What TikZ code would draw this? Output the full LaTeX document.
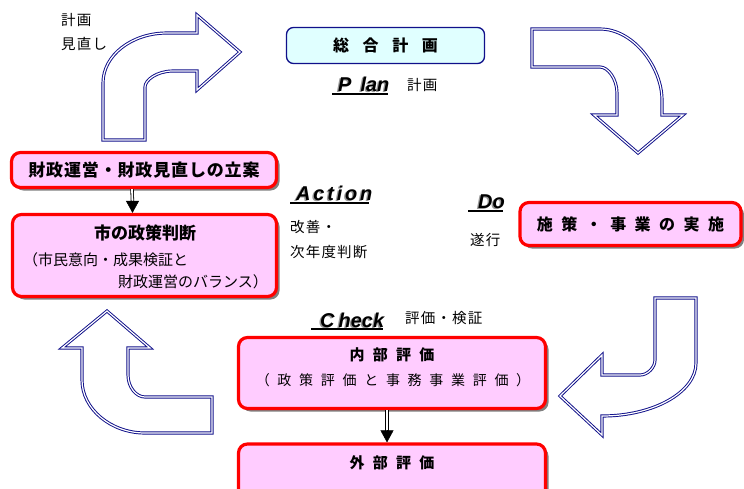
\documentclass[tikz,border=0pt]{standalone}
\usepackage{fontspec}
\setmainfont{Noto Sans CJK JP}
\newfontfamily\lat{Liberation Sans}
\usetikzlibrary{shadows,arrows.meta,calc}
\definecolor{boxred}{HTML}{FF0000}
\definecolor{boxpink}{HTML}{FFCCFF}
\definecolor{navyline}{HTML}{10108A}
\definecolor{planfill}{HTML}{E0FFFF}
\newcommand{\fs}[1]{\fontsize{#1}{#1}\selectfont}
\newcommand{\ls}[1]{\addfontfeatures{LetterSpace=#1}}
\begin{document}
\begin{tikzpicture}[x=1pt,y=-1pt,
  redbox/.style={rectangle, draw=boxred, line width=3.2pt, fill=boxpink, rounded corners=9pt, inner sep=0pt,
    drop shadow={shadow xshift=3pt, shadow yshift=-3pt, fill=black!50, opacity=1}},
  planbox/.style={rectangle, draw=navyline, line width=1.3pt, fill=planfill, rounded corners=7pt, inner sep=0pt},
  bigarrow/.style={draw=navyline, line width=0.95pt, double=white, double distance=1.2pt, fill=white, line join=miter},
  conn/.style={draw=black, line width=0.8pt, double=white, double distance=1.8pt},
  tip/.style={-{Triangle[width=13pt,length=12pt]}, line width=0.5pt},
  pdca/.style={font=\lat\bfseries\itshape\fs{20}, inner sep=0pt, anchor=base west},
  shade/.style={pdca, text=black!40},
  uline/.style={line width=1.5pt},
  lbl/.style={font=\fs{14.5}\ls{8}, inner sep=0pt, anchor=west},
  txt/.style={inner sep=0pt}]
\useasboundingbox (0,0) rectangle (744,488);
\clip (0,0) rectangle (744,488);

% big curved arrows
\draw[bigarrow] (103,140) -- (103,83) .. controls (103,55) and (132,33) .. (167,33) -- (197,33) -- (197,15)
  -- (240,52) -- (197,90) -- (197,71) -- (173,71) .. controls (157,71) and (145,80) .. (145,87) -- (145,140) -- cycle;
\draw[bigarrow] (532,29) -- (600,29) .. controls (634,29) and (662,68) .. (662,100) -- (662,115) -- (683,115)
  -- (638,153) -- (594,115) -- (617,115) -- (617,93) .. controls (617,79) and (608,67) .. (600,67) -- (532,67) -- cycle;
\draw[bigarrow] (655,298) -- (696,298) -- (696,363) .. controls (696,392) and (654,416) .. (602,416) -- (602,435)
  -- (560,396) -- (602,355) -- (602,375) -- (640,375) .. controls (648,375) and (655,367) .. (655,360) -- cycle;
\draw[bigarrow] (107,311) -- (150,348) -- (128,348) -- (128,375) .. controls (128,387) and (136,397) .. (145,397)
  -- (212,397) -- (212,433) -- (145,433) .. controls (111,433) and (82,409) .. (82,380) -- (82,348) -- (62,348) -- cycle;

% boxes
\node[planbox, minimum width=198pt, minimum height=36pt, font=\bfseries\fs{16}\ls{85}] (plan) at (385.5,45.5) {総合計画};
\node[redbox, minimum width=265pt, minimum height=35pt, font=\bfseries\fs{17}\ls{5}] (fin) at (144,170) {財政運営・財政見直しの立案};
\node[redbox, minimum width=264pt, minimum height=82pt] (city) at (144.5,255.5) {};
\node[redbox, minimum width=221pt, minimum height=43pt, font=\bfseries\fs{16}\ls{53}] (do) at (630.5,224) {施策・事業の実施};
\node[redbox, minimum width=307pt, minimum height=71pt] (inner) at (392,373) {};
\node[redbox, minimum width=307pt, minimum height=60pt] (outer) at (392,474) {};

% box texts
\node[txt, font=\bfseries\fs{17}] (cityt) at (145,233) {市の政策判断};
\node[txt, font=\fs{15}, anchor=west] (cityl1) at (23,260) {（市民意向・成果検証と};
\node[txt, font=\fs{15}, anchor=east] (cityl2) at (268,282) {財政運営のバランス）};
\node[txt, font=\bfseries\fs{15}\ls{55}] (innert) at (392,355) {内部評価};
\node[txt, font=\fs{14}\ls{55}] (innerl) at (393,380) {（政策評価と事務事業評価）};
\node[txt, font=\bfseries\fs{15}\ls{55}] (outert) at (392,463) {外部評価};

% connectors
\draw[conn] ([xshift=-12pt]fin.south) -- ([xshift=-12pt,yshift=10pt]city.north);
\draw[tip] ([xshift=-12pt,yshift=12pt]city.north) -- ([xshift=-12pt]city.north);
\draw[conn] ([xshift=-5pt]inner.south) -- ([xshift=-5pt,yshift=10pt]outer.north);
\draw[tip] ([xshift=-5pt,yshift=12pt]outer.north) -- ([xshift=-5pt]outer.north);

% small labels
\node[lbl] (keikaku) at (61,20) {計画};
\node[lbl] (minaoshi) at (61,44) {見直し};
\node[lbl] (kaizen) at (290,227) {改善・};
\node[lbl] (jinen) at (290,252) {次年度判断};
\node[lbl] (suikou) at (470,240) {遂行};
\node[lbl] (hyouka) at (405,318) {評価・検証};
\node[lbl] (plankj) at (407,85) {計画};

% PDCA labels
\node[shade] (plansh) at (336.5,92) {P\hspace{9pt}lan};
\node[pdca] (planlbl) at (338,91) {P\hspace{9pt}lan};
\draw[uline] ([xshift=-6pt,yshift=-3pt]planlbl.base west) -- ([xshift=-2pt,yshift=-3pt]planlbl.base east);
\node[shade, font=\lat\bfseries\itshape\fs{20}\ls{14}] (actsh) at (294.5,201) {Action};
\node[pdca, font=\lat\bfseries\itshape\fs{20}\ls{14}] (actlbl) at (296,200) {Action};
\draw[uline] ([xshift=-6pt,yshift=-3pt]actlbl.base west) -- ([xshift=-4pt,yshift=-3pt]actlbl.base east);
\node[shade] (dosh) at (476.5,209) {Do};
\node[pdca] (dolbl) at (478,208) {Do};
\draw[uline] ([xshift=-10pt,yshift=-3pt]dolbl.base west) -- ([xshift=-2pt,yshift=-3pt]dolbl.base east);
\node[shade] (chsh) at (318.5,328) {C\hspace{4pt}heck};
\node[pdca] (chlbl) at (320,327) {C\hspace{4pt}heck};
\draw[uline] ([xshift=-9pt,yshift=-2pt]chlbl.base west) -- ([xshift=-1pt,yshift=-2pt]chlbl.base east);
\end{tikzpicture}
\end{document}
